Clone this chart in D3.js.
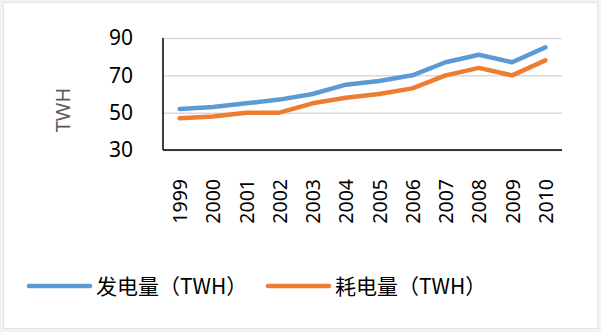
<!DOCTYPE html>
<html>
<head>
<meta charset="utf-8">
<script src="https://cdn.jsdelivr.net/npm/d3@7"></script>
<style>
  body { margin: 0; background: #fff; }
  text { font-family: "Noto Sans", "Open Sans", sans-serif; }
</style>
</head>
<body>
<svg id="chart"></svg>
<script>
// data
const years = ['1999','2000','2001','2002','2003','2004','2005','2006','2007','2008','2009','2010'];
const generation = [52, 53, 55, 57, 60, 65, 67, 70, 77, 81, 77, 85];
const consumption = [47, 48, 50, 50, 55, 58, 60, 63, 70, 74, 70, 78];
const yTicks = [30, 50, 70, 90];
const seriesNames = ['发电量（TWH）', '耗电量（TWH）'];
const seriesColors = ['#5B9BD5', '#ED7D31'];

const width = 601, height = 332;
const margin = {top: 38, right: 39, bottom: 182, left: 163};
const innerW = width - margin.left - margin.right;
const innerH = height - margin.top - margin.bottom;

const svg = d3.select('#chart')
    .attr('width', width)
    .attr('height', height);

// outer frame
svg.append('rect')
    .attr('x', 0).attr('y', 0)
    .attr('width', width).attr('height', height)
    .attr('fill', '#f2f2f2');
svg.append('rect')
    .attr('x', 3.5).attr('y', 2.5)
    .attr('width', width - 7).attr('height', height - 6)
    .attr('fill', '#fff')
    .attr('stroke', '#e3e3e3');

const chart = svg.append('g')
    .attr('transform', `translate(${margin.left},${margin.top})`);

const xScale = d3.scalePoint()
    .domain(years)
    .range([0, innerW])
    .padding(0.5);

const yScale = d3.scaleLinear()
    .domain([30, 90])
    .range([innerH, 0]);

// gridlines
const yGrid = d3.axisLeft(yScale)
    .tickValues(yTicks)
    .tickSize(-innerW)
    .tickFormat('');
chart.append('g')
    .attr('class', 'grid')
    .call(yGrid)
    .call(g => g.select('.domain').remove())
    .call(g => g.selectAll('line').attr('stroke', '#d9d9d9').attr('stroke-width', 1.5));

// y axis labels
const yAxis = d3.axisLeft(yScale)
    .tickValues(yTicks)
    .tickSize(0)
    .tickPadding(30);
chart.append('g')
    .call(yAxis)
    .call(g => g.select('.domain').remove())
    .call(g => g.selectAll('text')
        .attr('fill', '#000')
        .style('font-size', '21px'));

// x axis labels (rotated)
const xAxis = d3.axisBottom(xScale).tickSize(0).tickPadding(0);
chart.append('g')
    .attr('transform', `translate(0,${innerH})`)
    .call(xAxis)
    .call(g => g.select('.domain').remove())
    .call(g => g.selectAll('text')
        .attr('fill', '#000')
        .style('font-size', '19.5px')
        .attr('text-anchor', 'end')
        .attr('dy', null)
        .attr('y', 0)
        .attr('transform', 'translate(7,29) rotate(-90)'));

// axis lines
chart.append('line')
    .attr('x1', 0).attr('x2', 0)
    .attr('y1', 0).attr('y2', innerH)
    .attr('stroke', '#000').attr('stroke-width', 1.5);
chart.append('line')
    .attr('x1', 0).attr('x2', innerW)
    .attr('y1', innerH).attr('y2', innerH)
    .attr('stroke', '#000').attr('stroke-width', 1.5);

// axis title
svg.append('text')
    .attr('transform', 'translate(70,110) rotate(-90)')
    .attr('text-anchor', 'middle')
    .attr('fill', '#595959')
    .style('font-size', '20px')
    .text('TWH');

// lines
const line = d3.line()
    .x((d, i) => xScale(years[i]))
    .y(d => yScale(d));

[generation, consumption].forEach((s, i) => {
  chart.append('path')
      .datum(s)
      .attr('fill', 'none')
      .attr('stroke', seriesColors[i])
      .attr('stroke-width', 4.5)
      .attr('stroke-linejoin', 'round')
      .attr('stroke-linecap', 'round')
      .attr('d', line);
});

// legend
const legendX = [29, 268];
const legend = svg.append('g');
seriesNames.forEach((name, i) => {
  const g = legend.append('g').attr('transform', `translate(${legendX[i]},286)`);
  g.append('line')
      .attr('x1', 0).attr('x2', 61)
      .attr('y1', 0).attr('y2', 0)
      .attr('stroke', seriesColors[i])
      .attr('stroke-width', 4.5)
      .attr('stroke-linecap', 'round');
  g.append('text')
      .attr('x', 67)
      .attr('y', 8)
      .attr('fill', '#000')
      .style('font-family', '"Noto Sans CJK SC", sans-serif')
      .style('font-size', '21px')
      .text(name);
});
</script>
</body>
</html>
